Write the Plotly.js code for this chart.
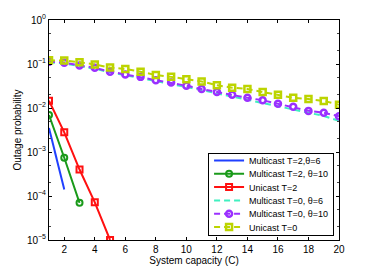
<!DOCTYPE html>
<html><head><meta charset="utf-8">
<script src="https://cdn.plot.ly/plotly-3.0.1.min.js"></script>
<style>html,body{margin:0;padding:0;background:#fff}#c{width:374px;height:270px}</style>
</head><body><div id="c"></div>
<script>
var xShort1 = [1, 2];
var xShort2 = [1, 2, 3];
var xShort3 = [1, 2, 3, 4, 5];
var xLong = [1,2,3,4,5,6,7,8,9,10,11,12,13,14,15,16,17,18,19,20];
var multiT2th6 = [3.5e-3, 1.4e-4];
var multiT2th10 = [6.9e-3, 7.4e-4, 7.0e-5];
var uniT2 = [1.47e-2, 2.8e-3, 4.0e-4, 7.2e-5, 1.0e-5];
var multiT0th6 = [0.110,0.103,0.089,0.078,0.065,0.056,0.048,0.041,0.035,0.030,0.0255,0.0215,0.0185,0.0158,0.0134,0.0113,0.0095,0.0080,0.0066,0.0051];
var multiT0th10 = [0.113,0.107,0.093,0.082,0.067,0.058,0.051,0.043,0.038,0.032,0.027,0.023,0.020,0.017,0.015,0.0125,0.0107,0.0086,0.0078,0.0065];
var uniT0 = [0.121,0.120,0.109,0.098,0.083,0.077,0.067,0.056,0.051,0.045,0.040,0.033,0.029,0.027,0.023,0.020,0.017,0.016,0.0145,0.0119];
var names = ['Multicast T=2,θ=6','Multicast T=2, θ=10','Unicast T=2','Multicast T=0, θ=6','Multicast T=0, θ=10','Unicast T=0'];
var xTicks = [2,4,6,8,10,12,14,16,18,20];
var yTickVals = [1e-5,1e-4,1e-3,1e-2,1e-1,1];
var yTickText = ['10<sup>−5</sup>','10<sup>−4</sup>','10<sup>−3</sup>','10<sup>−2</sup>','10<sup>−1</sup>','10<sup>0</sup>'];

var dash = '6px,4px';
var traces = [
 {x:xShort1,y:multiT2th6,name:names[0],mode:'lines',line:{color:'#2040ff',width:2}},
 {x:xShort2,y:multiT2th10,name:names[1],mode:'lines+markers',line:{color:'#1a9a1a',width:2},marker:{symbol:'circle-open',size:6,line:{width:2,color:'#1a9a1a'}}},
 {x:xShort3,y:uniT2,name:names[2],mode:'lines+markers',line:{color:'#ff1010',width:2},marker:{symbol:'square-open',size:6,line:{width:2,color:'#ff1010'}}},
 {x:xLong,y:multiT0th6,name:names[3],mode:'lines',line:{color:'#40f0c0',width:2,dash:dash}},
 {x:xLong,y:multiT0th10,name:names[4],mode:'lines+markers',line:{color:'#9b30ff',width:2,dash:dash},marker:{symbol:'circle-open',size:6,line:{width:2.5,color:'#9b30ff'}}},
 {x:xLong,y:uniT0,name:names[5],mode:'lines+markers',line:{color:'#bcd400',width:2,dash:dash},marker:{symbol:'square-open',size:6,line:{width:2.5,color:'#bcd400'}}}
];
var fam = 'Liberation Sans, Arial, sans-serif';
var layout = {
 width:374, height:270,
 margin:{l:49,r:35,t:20,b:30,autoexpand:false},
 paper_bgcolor:'#fff', plot_bgcolor:'#fff',
 font:{family:fam,size:10,color:'#000'},
 showlegend:true,
 legend:{x:0.983,y:0.023,xanchor:'right',yanchor:'bottom',bgcolor:'#fff',bordercolor:'#000',borderwidth:1,font:{family:fam,size:9,color:'#000'},tracegroupgap:0,itemwidth:30},
 xaxis:{range:[1,20],tickvals:xTicks,ticks:'inside',ticklen:3,tickcolor:'#000',showline:true,linecolor:'#000',linewidth:1,mirror:'ticks',showgrid:false,zeroline:false,automargin:false,
   title:{text:'System capacity (C)',font:{size:10},standoff:2},tickfont:{size:10}},
 yaxis:{type:'log',range:[-5,0],tickvals:yTickVals,ticktext:yTickText,ticks:'inside',ticklen:3,tickcolor:'#000',showline:true,linecolor:'#000',linewidth:1,mirror:'ticks',showgrid:false,zeroline:false,automargin:false,
   minor:{ticks:'inside',ticklen:2,tickcolor:'#444',showgrid:false},
   title:{text:'Outage probability',font:{size:10},standoff:0},tickfont:{size:10}}
};
Plotly.newPlot('c',traces,layout,{displayModeBar:false,staticPlot:true}).then(function(gd){
  var yt = gd.querySelector('.ytitle');
  if(yt){
    var cy = gd._fullLayout._size.t + gd._fullLayout._size.h/2;
    yt.setAttribute('x', 21); yt.setAttribute('y', cy);
    yt.setAttribute('transform','rotate(-90,21,'+cy+')');
  }
  var leg = gd.querySelector('.legend');
  if(!leg) return;
  var items = leg.querySelectorAll('g.traces');
  var step = 13.3, y0 = 8;
  items.forEach(function(it,i){
    var m = /translate\(([^,]+),\s*([^)]+)\)/.exec(it.getAttribute('transform')||'');
    var tx = m ? parseFloat(m[1]) : 1;
    it.setAttribute('transform','translate('+tx+','+(y0+i*step)+')');
  });
  var h = y0 + 5*step + 8;
  var bg = leg.querySelector('rect.bg');
  if(bg){ bg.setAttribute('height', h); }
  gd.querySelectorAll('clipPath[id*="legend"] rect').forEach(function(r){ r.setAttribute('height', h); });
  var lm = /translate\(([^,]+),\s*([^)]+)\)/.exec(leg.getAttribute('transform')||'');
  var lx = lm ? parseFloat(lm[1]) : 200;
  var bottom = gd._fullLayout._size.t + gd._fullLayout._size.h - 5;
  leg.setAttribute('transform','translate('+lx+','+(bottom - h)+')');
});
</script></body></html>
